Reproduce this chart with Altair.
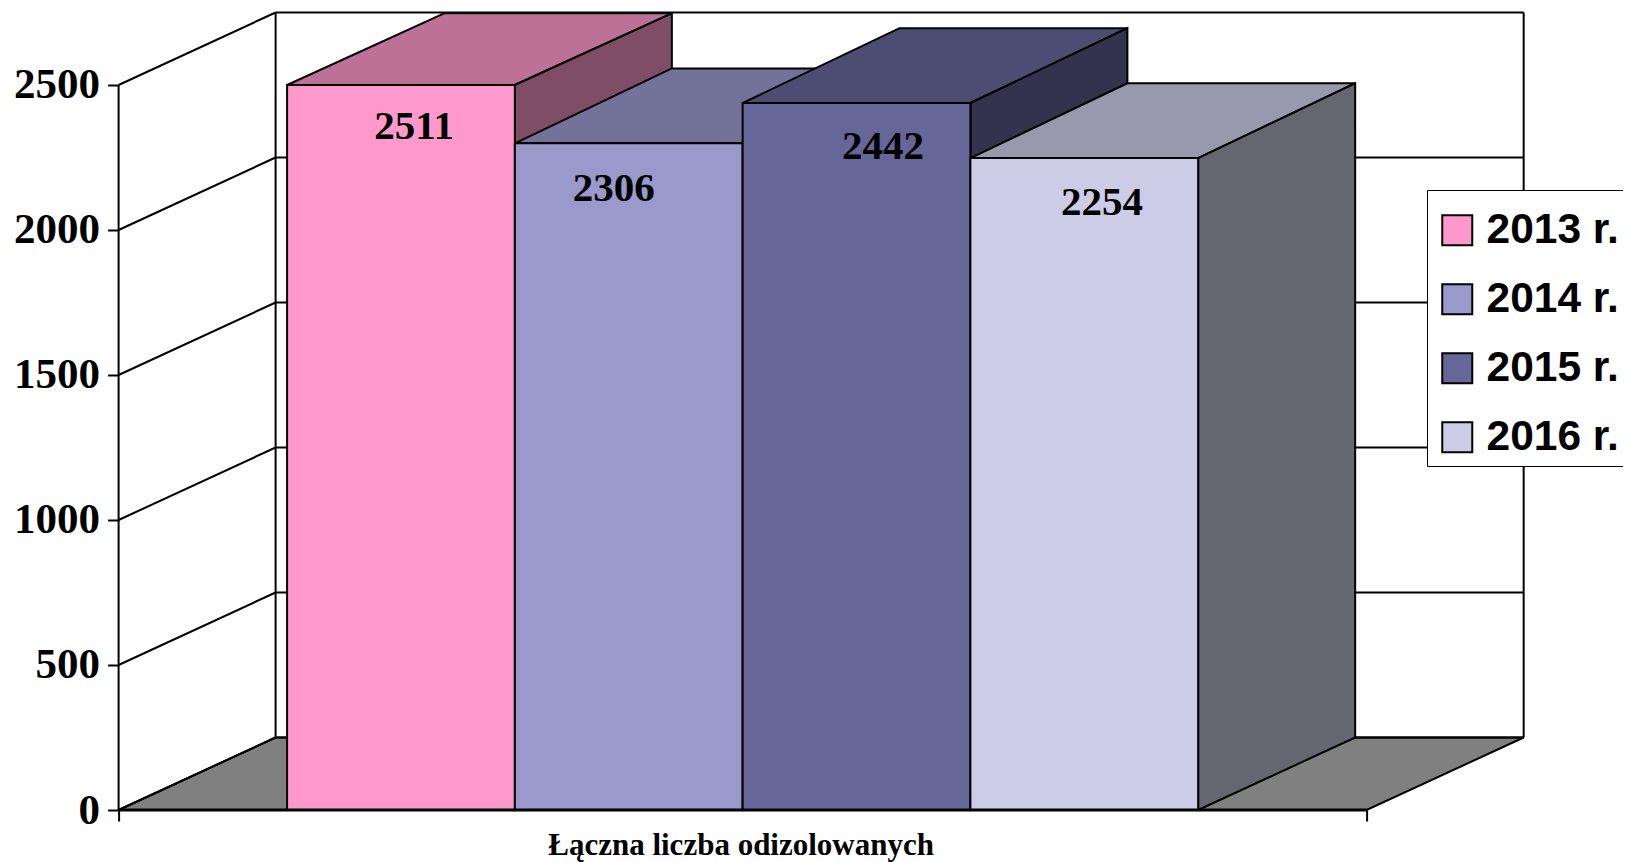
import altair as alt
import pandas as pd

years = ["2013 r.", "2014 r.", "2015 r.", "2016 r."]
values = [2511, 2306, 2442, 2254]
bar_tops = [2500, 2299, 2438, 2248]
front_colors = ["#FF99CC", "#9999CC", "#666699", "#CCCCE6"]
top_colors = ["#BE7196", "#737399", "#4D4D73", "#9999AD"]
side_colors = ["#804D66", "#4D4D66", "#33334D", "#666670"]
label_x = [0.2367, 0.3967, 0.6125, 0.788]
label_y = [2356, 2143, 2287, 2094]
ticks = [0, 500, 1000, 1500, 2000, 2500]
category = "Łączna liczba odizolowanych"

X_DOMAIN = [0, 1.2054]
Y_DOMAIN = [0, 2765.5]
DEPTH_X = 0.1258
DEPTH_Y = 250
BAR_TOP_DEPTH_Y = 258
WALL_TOP = 2747
BAR_START = 0.135
BAR_W = 0.1825

xs = alt.Scale(domain=X_DOMAIN, nice=False, zero=False)
ys = alt.Scale(domain=Y_DOMAIN, nice=False, zero=False)
SERIF = "Liberation Serif"
LW = 2


def X(f="x"):
    return alt.X(f"{f}:Q", scale=xs)


def Y(f="y"):
    return alt.Y(f"{f}:Q", scale=ys)


def seg(rows, width):
    d = pd.DataFrame(rows, columns=["x", "x2", "y", "y2"])
    return alt.Chart(d).mark_rule(color="black", strokeWidth=width).encode(
        x=X(), x2="x2:Q", y=Y(), y2="y2:Q")


def h_para(x0, x1, y0, y1, color):
    d = pd.DataFrame({"y": [y0, y1], "x": [x0, x0 + DEPTH_X], "x2": [x1, x1 + DEPTH_X]})
    return alt.Chart(d).mark_area(orient="horizontal", fill=color, stroke="black",
                                  strokeWidth=LW, opacity=1).encode(
        y=Y(), x=X(), x2="x2:Q")


def v_para(x0, y0, y1, y1_back, color):
    d = pd.DataFrame({"x": [x0, x0 + DEPTH_X], "y": [y0, y0 + DEPTH_Y], "y2": [y1, y1_back]})
    return alt.Chart(d).mark_area(orient="vertical", fill=color, stroke="black",
                                  strokeWidth=LW, opacity=1).encode(
        x=X(), y=Y(), y2="y2:Q")


# axes carried by an invisible layer
axis_df = pd.DataFrame({"x": [0.0], "y": [0.0]})
axes = alt.Chart(axis_df).mark_point(opacity=0).encode(
    x=alt.X("x:Q", scale=xs, title=category,
            axis=alt.Axis(values=[0, 1], labels=False, grid=False, domain=False,
                          tickColor="black", tickSize=11, tickWidth=LW,
                          titleFont=SERIF, titleFontSize=31, titleFontWeight="bold",
                          titleColor="black", titleX=622, titleY=44,
                          titleBaseline="alphabetic", titleAnchor="middle", titleAlign="center")),
    y=alt.Y("y:Q", scale=ys, title="",
            axis=alt.Axis(values=ticks, grid=False, domain=False, tickColor="black",
                          tickSize=11, tickWidth=LW, labelFont=SERIF, labelFontSize=43,
                          labelFontWeight="bold", labelColor="black", labelPadding=8,
                          format="d", labelOverlap=False)),
)

layers = [axes]

# floor
layers.append(h_para(0, 1, 0, DEPTH_Y, "#808080"))

# back wall grid, side wall grid, and frame
layers.append(seg([[DEPTH_X, 1 + DEPTH_X, t + DEPTH_Y, t + DEPTH_Y] for t in ticks], LW))
layers.append(seg([[0, DEPTH_X, t, t + DEPTH_Y] for t in ticks], LW))
layers.append(seg([[DEPTH_X, DEPTH_X, DEPTH_Y, ticks[-1] + DEPTH_Y],
                   [1 + DEPTH_X, 1 + DEPTH_X, DEPTH_Y, ticks[-1] + DEPTH_Y],
                   [0, 0, 0, ticks[-1]]], LW))

for i, (yr, top) in enumerate(zip(years, bar_tops)):
    x0 = BAR_START + i * BAR_W
    x1 = x0 + BAR_W
    back = min(top + BAR_TOP_DEPTH_Y, WALL_TOP)
    layers.append(h_para(x0, x1, top, back, top_colors[i]))
    layers.append(v_para(x1, 0, top, back, side_colors[i]))
    d = pd.DataFrame({"x": [x0], "x2": [x1], "y": [0], "y2": [top], "year": [yr]})
    layers.append(alt.Chart(d).mark_rect(stroke="black", strokeWidth=LW).encode(
        x=X(), x2="x2:Q", y=Y(), y2="y2:Q",
        color=alt.Color("year:N", scale=alt.Scale(domain=years, range=front_colors),
                        legend=alt.Legend(
                            orient="none", legendX=1308.4, legendY=182, title=" ",
                            titleFontSize=12, titlePadding=0,
                            fillColor="white", strokeColor="black", padding=7,
                            symbolType="square", symbolSize=900, symbolStrokeColor="black",
                            symbolOffset=2,
                            symbolStrokeWidth=2, symbolOpacity=1,
                            labelFont="Liberation Sans", labelFontSize=42.5,
                            labelFontWeight="bold", labelColor="black",
                            labelOffset=8, rowPadding=26, labelLimit=400))))

# front baseline
layers.append(seg([[0, 1, 0, 0]], 3))

labels = pd.DataFrame({"x": label_x, "y": label_y, "t": [str(v) for v in values]})
layers.append(alt.Chart(labels).mark_text(font=SERIF, fontSize=41, fontWeight="bold",
                                          color="black", baseline="middle", align="center").encode(
    x=X(), y=Y(), text="t:N"))

chart = alt.layer(*layers).properties(
    width=1504.4, height=802,
    padding={"left": 110.6, "top": 0, "right": 0, "bottom": 52},
    autosize=alt.AutoSizeParams(type="none"),
    background="white",
).configure_view(stroke=None)

chart.save("out.html", embed_options={"renderer": "svg", "actions": False})
